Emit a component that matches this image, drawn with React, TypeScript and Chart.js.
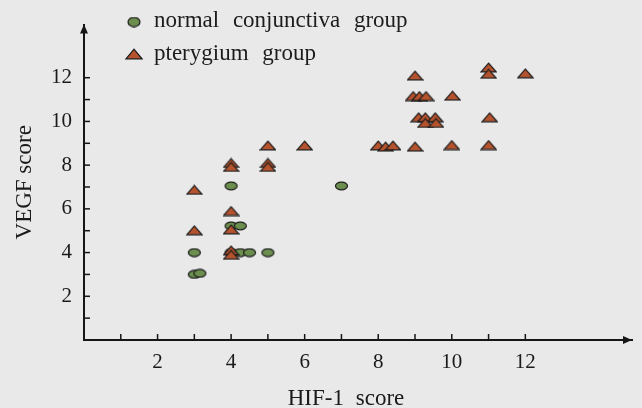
import React, { useEffect, useRef } from 'react';
import { Chart, registerables } from 'chart.js';

Chart.register(...registerables);

// ---- data ----
const seriesNames = ['normal conjunctiva group', 'pterygium group'];

const normalX = [3, 3.15, 3, 4, 4.25, 4.5, 5, 4, 4.25, 4, 7];
const normalY = [3, 3.05, 4, 4, 4, 4, 4, 5.22, 5.22, 7.05, 7.05];

const pterX = [3, 3, 4, 4, 4, 4, 4, 4, 5, 5, 5, 6, 8, 8.2, 8.4, 9, 10, 11, 9, 11, 11, 12, 8.95, 9.12, 9.3, 10.02, 9.1, 9.28, 9.55, 9.28, 9.57, 11.03];
const pterY = [6.87, 5.02, 8.1, 7.92, 5.9, 5.06, 4.1, 3.9, 8.1, 7.92, 8.9, 8.9, 8.9, 8.85, 8.9, 8.85, 8.92, 8.92, 12.1, 12.47, 12.18, 12.2, 11.16, 11.16, 11.16, 11.18, 10.19, 10.19, 10.19, 9.93, 9.93, 10.19];

const xTickLabels = [2, 4, 6, 8, 10, 12];
const yTickLabels = [2, 4, 6, 8, 10, 12];
const minorTicks = [1, 2, 3, 4, 5, 6, 7, 8, 9, 10, 11, 12];

const xTitle = 'HIF-1 score';
const yTitle = 'VEGF score';

const GREEN = '#6c8f4f';
const BROWN = '#b5532e';
const INK = '#161616';
const FONT = '"Liberation Serif", "Times New Roman", serif';

function makeEllipse(w: number, h: number, rx: number, ry: number) {
  const c = document.createElement('canvas');
  c.width = w;
  c.height = h;
  const ctx = c.getContext('2d')!;
  ctx.beginPath();
  ctx.ellipse(w / 2, h / 2, rx, ry, 0, 0, Math.PI * 2);
  ctx.fillStyle = GREEN;
  ctx.fill();
  ctx.lineWidth = 1.2;
  ctx.strokeStyle = '#1a1a1a';
  ctx.stroke();
  return c;
}

function makeTriangle(w: number, h: number) {
  const c = document.createElement('canvas');
  c.width = w;
  c.height = h;
  const ctx = c.getContext('2d')!;
  ctx.beginPath();
  ctx.moveTo(1, h - 1.2);
  ctx.lineTo(w / 2, 1.2);
  ctx.lineTo(w - 1, h - 1.2);
  ctx.closePath();
  ctx.fillStyle = BROWN;
  ctx.fill();
  ctx.lineWidth = 1.2;
  ctx.lineJoin = 'miter';
  ctx.strokeStyle = '#1a1a1a';
  ctx.stroke();
  return c;
}

export default function App() {
  const ref = useRef<HTMLCanvasElement | null>(null);

  useEffect(() => {
    document.body.style.margin = '0';
    document.body.style.background = '#e9e9e9';
    const canvas = ref.current;
    if (!canvas) return;

    const dot = makeEllipse(15, 10, 6, 3.8);
    const tri = makeTriangle(17, 11);
    const legDot = makeEllipse(14, 11, 6, 4.6);
    const legTri = makeTriangle(18, 12);

    const decor = {
      id: 'decor',
      afterDraw(chart: any) {
        const ctx = chart.ctx as CanvasRenderingContext2D;
        const xs = chart.scales.x;
        const ys = chart.scales.y;
        const left = xs.left;
        const bottom = ys.bottom;
        ctx.save();
        ctx.strokeStyle = INK;
        ctx.fillStyle = INK;
        ctx.lineWidth = 1.5;
        for (const t of minorTicks) {
          const px = xs.getPixelForValue(t);
          ctx.beginPath();
          ctx.moveTo(px, bottom);
          ctx.lineTo(px, bottom - 6);
          ctx.stroke();
          const py = ys.getPixelForValue(t);
          ctx.beginPath();
          ctx.moveTo(left, py);
          ctx.lineTo(left + 6, py);
          ctx.stroke();
        }
        // arrow heads
        const top = ys.top;
        ctx.beginPath();
        ctx.moveTo(left, top);
        ctx.lineTo(left - 4, top + 9);
        ctx.lineTo(left + 4, top + 9);
        ctx.closePath();
        ctx.fill();
        const right = xs.right;
        ctx.beginPath();
        ctx.moveTo(right, bottom);
        ctx.lineTo(right - 9, bottom - 4);
        ctx.lineTo(right - 9, bottom + 4);
        ctx.closePath();
        ctx.fill();

        // x-axis title
        ctx.font = '23px ' + FONT;
        (ctx as any).wordSpacing = '6px';
        ctx.fillStyle = '#1a1a1a';
        ctx.textAlign = 'center';
        ctx.textBaseline = 'alphabetic';
        ctx.fillText(xTitle, 346, 405);

        // legend
        ctx.drawImage(legDot, 134 - legDot.width / 2, 22 - legDot.height / 2);
        ctx.drawImage(legTri, 134 - legTri.width / 2, 54 - legTri.height / 2);
        ctx.font = '23px ' + FONT;
        (ctx as any).wordSpacing = '8px';
        ctx.fillStyle = '#1c1c1c';
        ctx.textAlign = 'left';
        ctx.fillText(seriesNames[0], 154, 27);
        ctx.fillText(seriesNames[1], 154, 60);
        ctx.restore();
      },
    };

    const tickCb = (labels: number[]) => (v: any) => {
      const n = Number(v);
      return labels.includes(n) ? String(n) : '';
    };

    const chart = new Chart(canvas, {
      type: 'scatter',
      data: {
        datasets: [
          {
            label: seriesNames[0],
            data: normalX.map((x, i) => ({ x, y: normalY[i] })),
            pointStyle: dot as any,
            order: 1,
          },
          {
            label: seriesNames[1],
            data: pterX.map((x, i) => ({ x, y: pterY[i] })),
            pointStyle: tri as any,
            order: 0,
          },
        ],
      },
      options: {
        responsive: false,
        animation: false,
        layout: { padding: { top: 19, right: 1, left: 0, bottom: 0 } },
        plugins: {
          legend: { display: false },
          tooltip: { enabled: false },
        },
        scales: {
          x: {
            type: 'linear',
            min: 0,
            max: 14.9,
            afterFit: (s: any) => {
              s.height = 68;
            },
            grid: { display: false, drawTicks: false },
            border: { display: true, color: INK, width: 2 },
            ticks: {
              stepSize: 2,
              autoSkip: false,
              maxRotation: 0,
              padding: 10,
              color: '#1a1a1a',
              font: { family: FONT, size: 21 },
              callback: tickCb(xTickLabels),
            },
            title: { display: false, text: xTitle },
          },
          y: {
            type: 'linear',
            min: 0,
            max: 14.43,
            afterFit: (s: any) => {
              s.width = 84;
            },
            grid: { display: false, drawTicks: false },
            border: { display: true, color: INK, width: 2 },
            ticks: {
              stepSize: 2,
              autoSkip: false,
              padding: 12,
              color: '#1a1a1a',
              font: { family: FONT, size: 21 },
              callback: tickCb(yTickLabels),
            },
            title: {
              display: true,
              text: yTitle,
              color: '#1a1a1a',
              font: { family: FONT, size: 23, lineHeight: 1 },
              padding: { top: 13, bottom: 0 },
            },
          },
        },
      },
      plugins: [decor],
    });

    return () => chart.destroy();
  }, []);

  return (
    <div style={{ width: 642, height: 408 }}>
      <canvas ref={ref} width={642} height={408} style={{ display: 'block' }} />
    </div>
  );
}
